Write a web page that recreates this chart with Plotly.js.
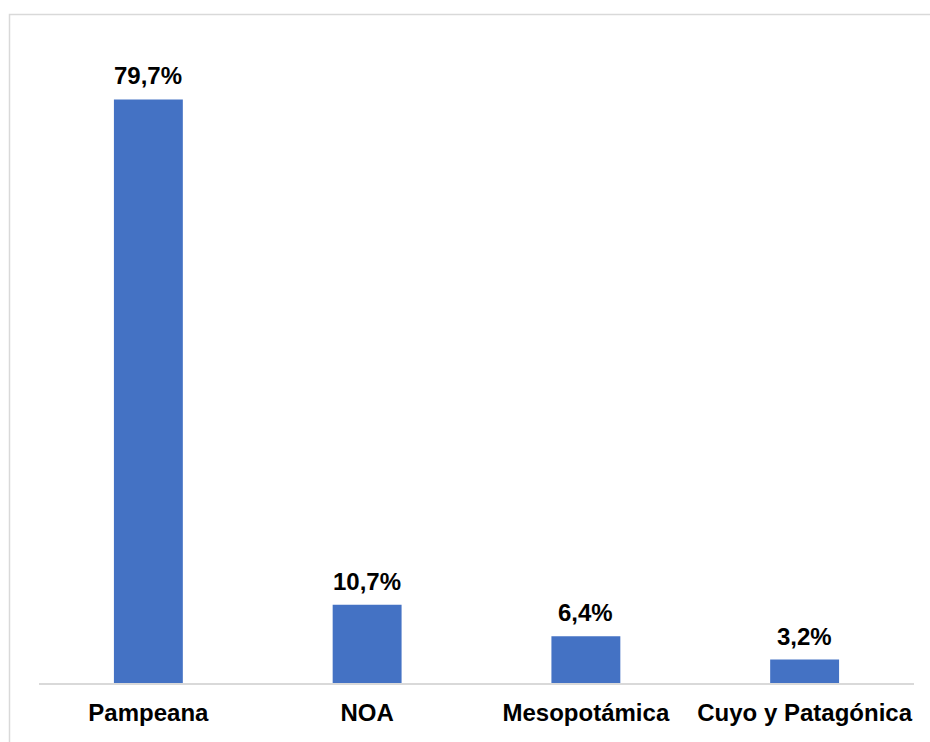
<!DOCTYPE html>
<html>
<head>
<meta charset="utf-8">
<script src="https://cdn.plot.ly/plotly-3.0.1.min.js"></script>
<style>
html,body{margin:0;padding:0;background:#fff;}
#chart{width:930px;height:742px;}
</style>
</head>
<body>
<div id="chart"></div>
<script>
const categories = ["Pampeana", "NOA", "Mesopotámica", "Cuyo y Patagónica"];
const values = [79.7, 10.7, 6.4, 3.2];
const valueLabels = ["79,7%", "10,7%", "6,4%", "3,2%"];

const trace = {
  type: "bar",
  x: categories,
  y: values,
  marker: {color: "#4472C4"},
  hoverinfo: "none"
};

const annotations = categories.map((c, i) => ({
  x: c, y: values[i], xref: "x", yref: "y",
  text: "<b>" + valueLabels[i] + "</b>",
  showarrow: false, yanchor: "bottom", yshift: 8,
  font: {family: "Liberation Sans, Arial, sans-serif", size: 24, color: "#000"}
}));

const layout = {
  width: 930, height: 742,
  margin: {l: 39, r: 16, t: 24, b: 59},
  paper_bgcolor: "#fff", plot_bgcolor: "#fff",
  bargap: 0.685,
  showlegend: false,
  xaxis: {
    showline: true, linecolor: "#d9d9d9", linewidth: 2,
    ticks: "outside", ticklen: 7, tickcolor: "rgba(0,0,0,0)",
    tickfont: {family: "Liberation Sans, Arial, sans-serif", size: 24, color: "#000", weight: "bold"},
    fixedrange: true
  },
  yaxis: {
    range: [0, 90], visible: false, showgrid: false, zeroline: false, fixedrange: true
  },
  annotations: annotations,
  shapes: [{
    type: "rect", xref: "paper", yref: "paper",
    x0: (9.5 - 39) / 875, x1: (960 - 39) / 875,
    y0: -0.2, y1: (683 - 14.5) / 659,
    line: {color: "#d9d9d9", width: 1.5}, fillcolor: "rgba(0,0,0,0)", layer: "below"
  }]
};

Plotly.newPlot("chart", [trace], layout, {displayModeBar: false, staticPlot: true});
</script>
</body>
</html>
